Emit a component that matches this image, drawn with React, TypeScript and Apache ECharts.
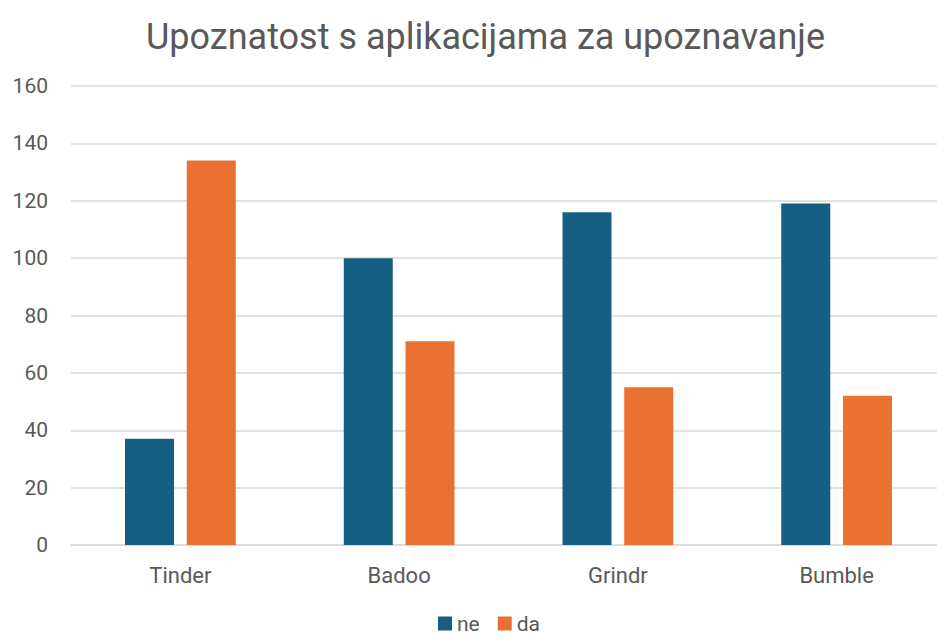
import React, { useEffect, useRef } from "react";
import * as echarts from "echarts";

const categories = ["Tinder", "Badoo", "Grindr", "Bumble"];
const neValues = [37, 100, 116, 119];
const daValues = [134, 71, 55, 52];
const seriesNames = ["ne", "da"];

export default function App() {
  const ref = useRef<HTMLDivElement>(null);
  useEffect(() => {
    document.body.style.margin = "0";
    const chart = echarts.init(ref.current!, null, { renderer: "svg" });
    const font = "Roboto, 'Liberation Sans', sans-serif";
    chart.setOption({
      animation: false,
      backgroundColor: "#ffffff",
      title: {
        text: "Upoznatost s aplikacijama za upoznavanje",
        left: 141,
        top: 14,
        textStyle: { color: "#595959", fontSize: 36, fontWeight: "normal", fontFamily: font },
      },
      legend: {
        data: seriesNames,
        bottom: 0,
        left: 433,
        itemWidth: 14,
        itemHeight: 14,
        itemGap: 18,
        icon: "rect",
        textStyle: { color: "#595959", fontSize: 21, fontFamily: font },
      },
      grid: { left: 71, top: 86, width: 875, height: 459, outerBoundsMode: "none", containLabel: false },
      xAxis: {
        type: "category",
        data: categories,
        axisLine: { lineStyle: { color: "#d9d9d9", width: 1.5 } },
        axisTick: { show: false },
        axisLabel: { color: "#595959", fontSize: 22, fontFamily: font, margin: 19 },
      },
      yAxis: {
        type: "value",
        min: 0,
        max: 160,
        interval: 20,
        axisLine: { show: false },
        axisTick: { show: false },
        splitLine: { lineStyle: { color: "#d9d9d9", width: 1.5 } },
        axisLabel: { color: "#595959", fontSize: 21, fontFamily: font, margin: 23 },
      },
      series: [
        {
          name: seriesNames[0],
          type: "bar",
          data: neValues,
          barWidth: "22.4%",
          barGap: "26%",
          itemStyle: { color: "#156082" },
        },
        {
          name: seriesNames[1],
          type: "bar",
          data: daValues,
          barWidth: "22.4%",
          barGap: "26%",
          itemStyle: { color: "#E97132" },
        },
      ],
    });
    return () => chart.dispose();
  }, []);
  return <div ref={ref} style={{ width: 937, height: 639 }} />;
}
